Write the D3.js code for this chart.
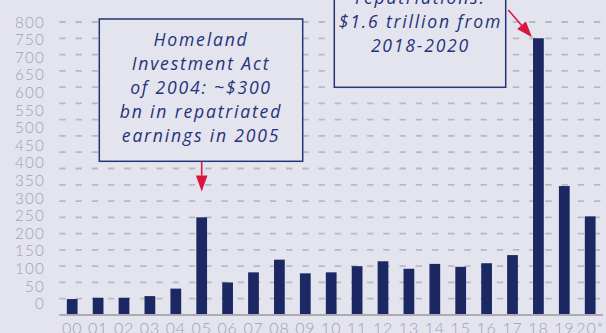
<!DOCTYPE html>
<html>
<head>
<meta charset="utf-8">
<script src="https://cdn.jsdelivr.net/npm/d3@7"></script>
<style>
  html, body { margin: 0; padding: 0; background: #e4e4ef; }
  svg { display: block; }
</style>
</head>
<body>
<svg id="chart" width="606" height="333"></svg>
<script>
// Repatriated earnings by year, $ billions
const years = ["00","01","02","03","04","05","06","07","08","09","10",
               "11","12","13","14","15","16","17","18","19","20"];
const yearLabels = ["00","01","02","03","04","05","06","07","08","09","10",
                    "11","12","13","14","15","16","17","18","19","20*"];
const repatriated = [49, 53, 53, 58, 81, 300, 100, 131, 170, 128, 131,
                     150, 165, 142, 157, 148, 159, 184, 850, 396, 303];
const tickValues = [0, 50, 100, 150, 200, 250, 300, 350, 400,
                    450, 500, 550, 600, 650, 700, 750, 800];
const gridValues = d3.range(50, 901, 50);

const noteHIA = ["Homeland", "Investment Act", "of 2004: ~$300", "bn in repatriated", "earnings in 2005"];
const noteTCJA = ["repatriations:", "$1.6 trillion from", "2018-2020"];

const navy = "#1b2864", textNavy = "#24337a", red = "#d8163f";
const gray = "#9ea2b1", gridGray = "#b9b9c0";

const svg = d3.select("#chart");

const x = d3.scaleBand().domain(years).range([59.25, 603.15])
  .paddingInner(0.585).paddingOuter(0.2925);
const y = d3.scaleLinear().domain([0, 900]).range([315, 22]);
// tick-label column runs on its own spacing
const yLab = d3.scaleLinear().domain([0, 800]).range([303.3, 21.7]);

// dashed gridlines
svg.append("g").selectAll("line").data(gridValues).join("line")
  .attr("x1", 59.3).attr("x2", 603)
  .attr("y1", d => y(d)).attr("y2", d => y(d))
  .attr("stroke", gridGray).attr("stroke-width", 1.8)
  .attr("stroke-dasharray", "6.4 9.8");

// y tick labels
const yAxis = d3.axisLeft(yLab).tickValues(tickValues).tickSize(0).tickPadding(0);
const ya = svg.append("g").attr("transform", "translate(45,0)").call(yAxis);
ya.select(".domain").remove();
ya.selectAll("text")
  .attr("fill", gray).attr("font-family", "Lato, 'Open Sans', sans-serif")
  .attr("font-weight", 300).attr("font-size", 15.2).attr("letter-spacing", 1.2)
  .attr("dy", "0.36em");

// bars
svg.append("g").selectAll("rect").data(years).join("rect")
  .attr("x", d => x(d)).attr("width", x.bandwidth())
  .attr("y", (d, i) => y(repatriated[i]))
  .attr("height", (d, i) => y(0) - y(repatriated[i]))
  .attr("fill", navy);

// baseline and x labels
const xAxis = d3.axisBottom(x).tickSize(0).tickPadding(0)
  .tickFormat((d, i) => yearLabels[i]);
const xa = svg.append("g").attr("transform", `translate(0,${y(0)})`).call(xAxis);
xa.select(".domain").remove();
xa.selectAll("text")
  .attr("fill", gray).attr("font-family", "Lato, 'Open Sans', sans-serif")
  .attr("font-weight", 300).attr("font-size", 16).attr("letter-spacing", 0.8)
  .attr("dy", "1.2em");
svg.append("line").attr("x1", 59.3).attr("x2", 603)
  .attr("y1", y(0)).attr("y2", y(0))
  .attr("stroke", "#ababb0").attr("stroke-width", 2);

// arrow helper
function arrow(x1, y1, x2, y2) {
  const ang = Math.atan2(y2 - y1, x2 - x1), len = 16, half = 5.8;
  const bx = x2 - len * Math.cos(ang), by = y2 - len * Math.sin(ang);
  const px = -Math.sin(ang) * half, py = Math.cos(ang) * half;
  svg.append("line").attr("x1", x1).attr("y1", y1).attr("x2", bx).attr("y2", by)
    .attr("stroke", red).attr("stroke-width", 1.6);
  svg.append("path")
    .attr("d", `M${x2},${y2}L${bx + px},${by + py}L${bx - px},${by - py}Z`)
    .attr("fill", red);
}

// note boxes
function note(x0, y0, x1, y1, cx, firstY, lines) {
  svg.append("rect").attr("x", x0).attr("y", y0)
    .attr("width", x1 - x0).attr("height", y1 - y0)
    .attr("fill", "#e4e4ef").attr("stroke", textNavy).attr("stroke-width", 1.5);
  svg.append("g").selectAll("text").data(lines).join("text")
    .attr("x", cx).attr("y", (d, i) => firstY + i * 24)
    .attr("dy", "0.35em").attr("text-anchor", "middle")
    .attr("font-family", "'Open Sans', Lato, sans-serif").attr("font-style", "italic")
    .attr("font-size", 17.6).attr("letter-spacing", 1.8).attr("fill", textNavy)
    .text(d => d);
}

const cx05 = x("05") + x.bandwidth() / 2;
note(99.3, 19, 302.7, 161.3, 201, 39.5, noteHIA);
arrow(cx05, 161.3, cx05, 191.5);

note(334.3, -20, 505.7, 87.3, 420.5, -2, noteTCJA);
arrow(508.3, 10, x("18") - 1, y(850) - 1);
</script>
</body>
</html>
